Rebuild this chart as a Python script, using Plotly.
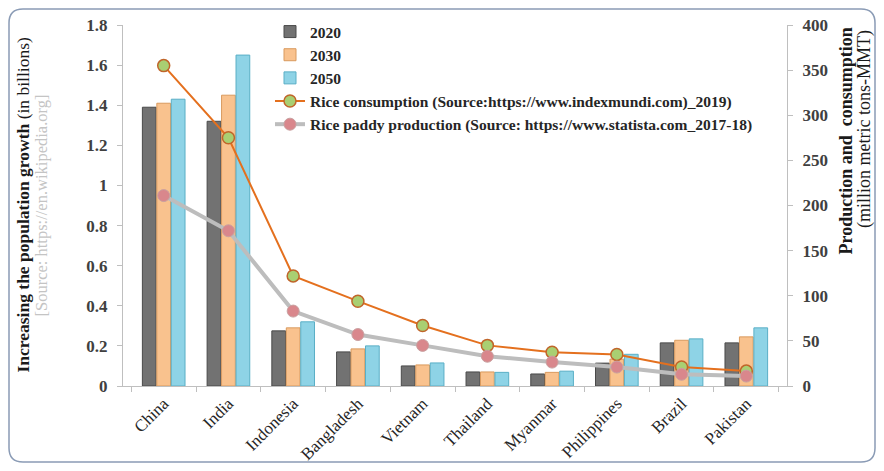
import plotly.graph_objects as go
from plotly.subplots import make_subplots

countries = ["China", "India", "Indonesia", "Bangladesh", "Vietnam", "Thailand",
             "Myanmar", "Philippines", "Brazil", "Pakistan"]
pop_2020 = [1.39, 1.32, 0.275, 0.17, 0.10, 0.07, 0.06, 0.114, 0.215, 0.215]
pop_2030 = [1.41, 1.45, 0.29, 0.185, 0.105, 0.07, 0.068, 0.134, 0.228, 0.245]
pop_2050 = [1.43, 1.65, 0.32, 0.20, 0.115, 0.068, 0.074, 0.158, 0.235, 0.29]
consumption = [355, 275, 122, 94, 67, 45, 37.5, 35, 21, 16.5]
production = [211, 172, 83, 57, 45, 33, 26.5, 21, 13, 11]

# figure sits inside the page body (8px margin); sizes in figure pixels
W, H = 868, 455
ML, MR, MT, MB = 115, 89, 17, 77
PW, PH = W - ML - MR, H - MT - MB

def px(x):
    return (x - ML) / PW

def py(y):
    return (H - MB - y) / PH

FONT = "Liberation Serif"

fig = make_subplots(specs=[[{"secondary_y": True}]])

bar_styles = [
    ("2020", pop_2020, "#727272", "#4a4a4a"),
    ("2030", pop_2030, "#F9C28E", "#D99A5E"),
    ("2050", pop_2050, "#8ED3E6", "#5AAFC6"),
]
for name, vals, col, lc in bar_styles:
    fig.add_trace(go.Bar(x=countries, y=vals, name=name,
                         marker=dict(color=col, line=dict(color=lc, width=1))),
                  secondary_y=False)

fig.add_trace(go.Scatter(x=countries, y=consumption, mode="lines+markers",
                         name="Rice consumption (Source:https://www.indexmundi.com)_2019)",
                         line=dict(color="#E4701E", width=2),
                         marker=dict(size=12, color="#A9CF72",
                                     line=dict(color="#C0652A", width=1.5))),
              secondary_y=True)
fig.add_trace(go.Scatter(x=countries, y=production, mode="lines+markers",
                         name="Rice paddy production (Source: https://www.statista.com_2017-18)",
                         line=dict(color="#BDBDBD", width=4),
                         marker=dict(size=12, color="#D9878C",
                                     line=dict(color="#C9A0A0", width=1))),
              secondary_y=True)

# rounded outer border
x0, x1, y0, y1 = 1, W - 1, 1, H - 1
r = 14
path = (f"M {px(x0 + r)},{py(y0)} L {px(x1 - r)},{py(y0)} "
        f"Q {px(x1)},{py(y0)} {px(x1)},{py(y0 + r)} "
        f"L {px(x1)},{py(y1 - r)} Q {px(x1)},{py(y1)} {px(x1 - r)},{py(y1)} "
        f"L {px(x0 + r)},{py(y1)} Q {px(x0)},{py(y1)} {px(x0)},{py(y1 - r)} "
        f"L {px(x0)},{py(y0 + r)} Q {px(x0)},{py(y0)} {px(x0 + r)},{py(y0)} Z")
fig.add_shape(type="path", path=path, xref="paper", yref="paper",
              line=dict(color="#8A9BB5", width=1.5), layer="below")

# axis titles as rotated annotations
left_title = [
    ("<b>Increasing the population growth</b> (in billions)", 14, 17.5, "#1a1a1a"),
    ("[Source: https://en.wikipedia.org]", 33, 16.5, "#C4C4C4"),
]
for txt, xc, size, col in left_title:
    fig.add_annotation(text=txt, x=px(xc), y=0.5, xref="paper", yref="paper",
                       xanchor="center", yanchor="middle", textangle=-90,
                       showarrow=False, font=dict(family=FONT, size=size, color=col))
right_title = [
    ("<b>Production and  consumption</b>", 837, 18, 18),
    ("(million metric tons-MMT)", 856, 20, 18),
]
for txt, xc, ytop, size in right_title:
    fig.add_annotation(text=txt, x=px(xc), y=py(ytop), xref="paper", yref="paper",
                       xanchor="center", yanchor="top", textangle=-90,
                       showarrow=False, font=dict(family=FONT, size=size, color="#1a1a1a"))

fig.update_layout(
    width=W, height=H,
    margin=dict(l=ML, r=MR, t=MT, b=MB, autoexpand=False),
    paper_bgcolor="white", plot_bgcolor="white",
    barmode="group", bargap=0.33, bargroupgap=0.05,
    font=dict(family=FONT, color="#404040", size=14),
    showlegend=True,
    legend=dict(x=px(262), y=py(7), xanchor="left", yanchor="top",
                bgcolor="rgba(0,0,0,0)", itemwidth=30, tracegroupgap=0,
                font=dict(family=FONT, size=15.5, color="#262626", weight="bold")),
)

fig.update_xaxes(domain=[0, 1], showline=True, linecolor="#BFBFBF", linewidth=1, automargin=False,
                 ticks="outside", tickson="boundaries", ticklen=5, tickcolor="#BFBFBF",
                 tickangle=-45, tickfont=dict(family=FONT, size=17, color="#262626"),
                 showgrid=False)
fig.update_yaxes(range=[0, 1.8], dtick=0.2, showgrid=False, showline=True, automargin=False,
                 linecolor="#BFBFBF", ticks="outside", ticklen=5, tickcolor="#BFBFBF",
                 ticklabelstandoff=6,
                 tickfont=dict(family=FONT, size=17, color="#404040", weight="bold"),
                 tickformat="~g", zeroline=False, secondary_y=False)
fig.update_yaxes(range=[0, 400], dtick=50, showgrid=False, showline=True, automargin=False,
                 linecolor="#BFBFBF", ticks="outside", ticklen=5, tickcolor="#BFBFBF",
                 ticklabelstandoff=6,
                 tickfont=dict(family=FONT, size=17, color="#404040", weight="bold"),
                 zeroline=False, secondary_y=True)

fig.write_html("out.html")
